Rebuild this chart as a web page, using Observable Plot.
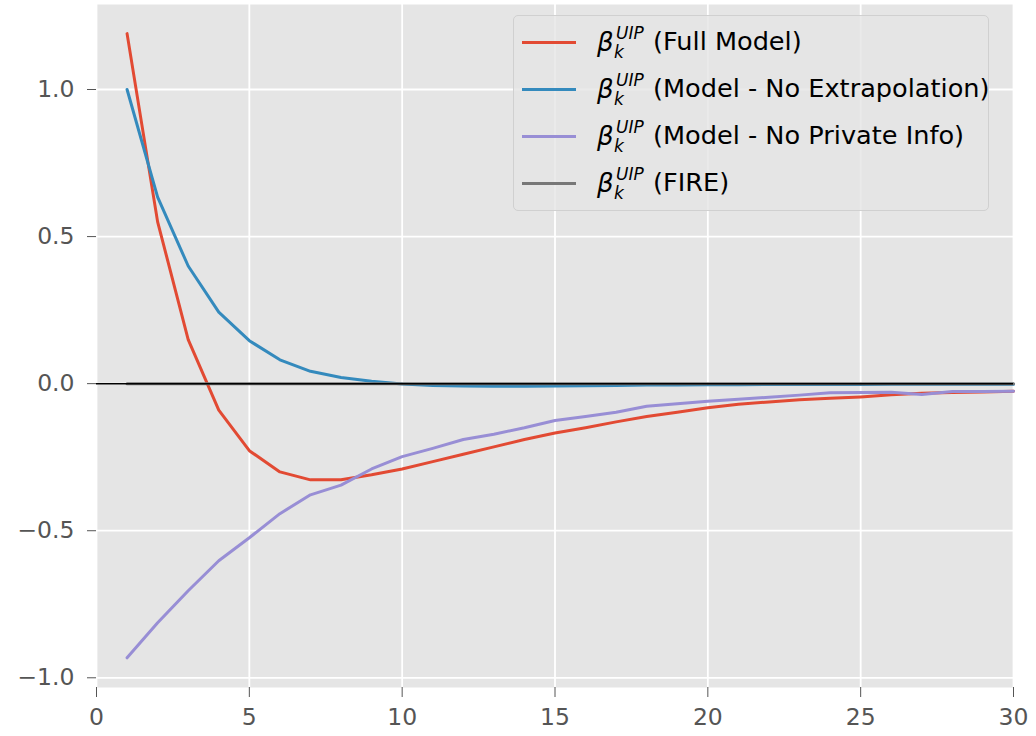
<!DOCTYPE html>
<html>
<head>
<meta charset="utf-8">
<script src="https://cdn.jsdelivr.net/npm/d3@7"></script>
<script src="https://cdn.jsdelivr.net/npm/@observablehq/plot@0.6"></script>
<style>
  html, body { margin: 0; padding: 0; background: #fff; }
  #wrap { position: relative; width: 1036px; height: 736px; font-family: "DejaVu Sans", sans-serif; }
  #legend {
    position: absolute; left: 513px; top: 15px; width: 474px; height: 194px;
    background: rgba(229,229,229,0.8); border: 1.5px solid #d0d0d0; border-radius: 5px;
  }
  .swatch { position: absolute; left: 8px; width: 54px; height: 3px; }
  .t { position: absolute; white-space: nowrap; line-height: 1; color: #000; }
  .base { font-size: 25.6px; }
  .beta { font-size: 26px; font-style: italic; }
  .small { font-size: 17px; font-style: italic; }
</style>
</head>
<body>
<div id="wrap"></div>
<script>
const horizon = [1,2,3,4,5,6,7,8,9,10,11,12,13,14,15,16,17,18,19,20,21,22,23,24,25,26,27,28,29,30];
const fullModel = [1.19,0.55,0.15,-0.09,-0.228,-0.30,-0.327,-0.327,-0.31,-0.29,-0.265,-0.24,-0.215,-0.19,-0.168,-0.15,-0.13,-0.112,-0.097,-0.082,-0.07,-0.062,-0.055,-0.05,-0.045,-0.038,-0.033,-0.03,-0.028,-0.026];
const noExtrapolation = [1.0,0.634,0.40,0.243,0.146,0.081,0.042,0.021,0.008,-0.001,-0.006,-0.008,-0.009,-0.009,-0.008,-0.007,-0.006,-0.005,-0.005,-0.004,-0.004,-0.003,-0.003,-0.003,-0.003,-0.002,-0.002,-0.002,-0.002,-0.002];
const noPrivateInfo = [-0.932,-0.813,-0.704,-0.602,-0.524,-0.442,-0.378,-0.345,-0.29,-0.248,-0.22,-0.19,-0.172,-0.15,-0.125,-0.112,-0.097,-0.077,-0.068,-0.06,-0.053,-0.046,-0.039,-0.031,-0.03,-0.029,-0.037,-0.027,-0.027,-0.026];
const fire = [0,0,0,0,0,0,0,0,0,0,0,0,0,0,0,0,0,0,0,0,0,0,0,0,0,0,0,0,0,0];

const seriesNames = ["(Full Model)", "(Model - No Extrapolation)", "(Model - No Private Info)", "(FIRE)"];
const seriesColors = ["#E24A33", "#348ABD", "#988ED5", "#777777"];
const seriesValues = [fullModel, noExtrapolation, noPrivateInfo, fire];

const xTicks = [0,5,10,15,20,25,30];
const yTicks = [-1.0,-0.5,0.0,0.5,1.0];

const fmtY = d => d.toFixed(1).replace("-", "\u2212");

const lineMarks = seriesValues.map((vals, i) =>
  Plot.lineY(horizon.map((x, j) => ({x, y: vals[j]})), {x: "x", y: "y", stroke: seriesColors[i], strokeWidth: 3})
);

const chart = Plot.plot({
  width: 1036,
  height: 736,
  marginLeft: 96,
  marginRight: 23,
  marginTop: 4,
  marginBottom: 49,
  style: {fontFamily: "DejaVu Sans", fontSize: "23px", color: "#555", background: "white"},
  x: {domain: [0, 30]},
  y: {domain: [-1.033, 1.289]},
  marks: [
    Plot.frame({fill: "#E5E5E5", stroke: "none"}),
    Plot.gridX(xTicks, {stroke: "white", strokeOpacity: 1, strokeWidth: 1.8}),
    Plot.gridY(yTicks, {stroke: "white", strokeOpacity: 1, strokeWidth: 1.8}),
    Plot.axisX(xTicks, {tickSize: 10, tickPadding: 11, fontSize: 23.5, stroke: "#555", fill: "#555", label: null, tickFormat: d => String(d)}),
    Plot.axisY(yTicks, {tickSize: 9, tickPadding: 13, fontSize: 23.5, stroke: "#555", fill: "#555", label: null, tickFormat: fmtY}),
    ...lineMarks,
    Plot.ruleY([0], {stroke: "black", strokeWidth: 1.5})
  ]
});

const wrap = document.getElementById("wrap");
wrap.appendChild(chart);

const legend = document.createElement("div");
legend.id = "legend";
const rowCenters = [26, 73, 120, 167];
function addText(cls, txt, left, top) {
  const s = document.createElement("span");
  s.className = "t " + cls;
  s.textContent = txt;
  s.style.left = left + "px";
  s.style.top = top + "px";
  legend.appendChild(s);
}
seriesNames.forEach((name, i) => {
  const c = rowCenters[i];
  const sw = document.createElement("div");
  sw.className = "swatch";
  sw.style.top = (c - 1.5) + "px";
  sw.style.background = seriesColors[i];
  legend.appendChild(sw);
  addText("beta", "\u03B2", 83, c - 13);
  addText("small", "UIP", 102, c - 17.5);
  addText("small", "k", 100, c + 1.5);
  addText("base", name, 139, c - 12.7);
});
wrap.appendChild(legend);
</script>
</body>
</html>
